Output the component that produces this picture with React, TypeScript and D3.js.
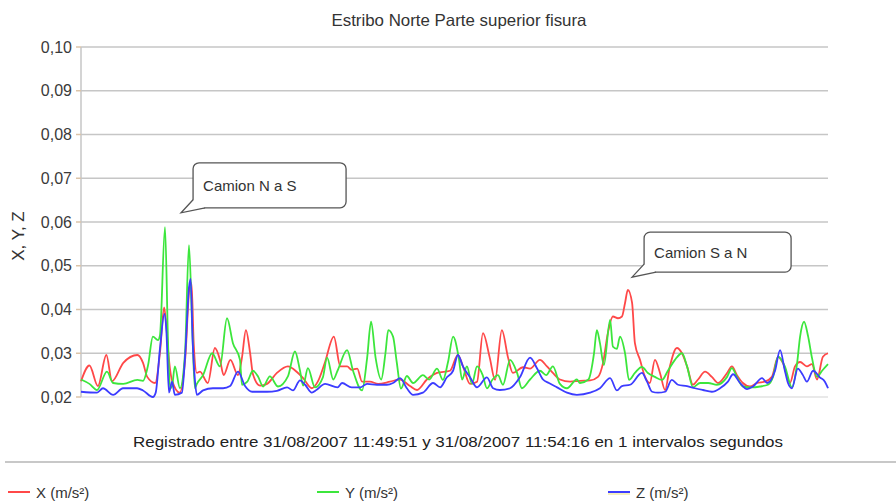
import * as d3 from "d3";
import { useEffect, useRef } from "react";

// chart texts
const chartTitle = "Estribo Norte Parte superior fisura";
const footerText =
  "Registrado entre 31/08/2007 11:49:51 y 31/08/2007 11:54:16 en 1 intervalos segundos";
const yAxisTitle = "X, Y, Z";
const yTicks = [0.02, 0.03, 0.04, 0.05, 0.06, 0.07, 0.08, 0.09, 0.1];
const seriesNames = ["X (m/s²)", "Y (m/s²)", "Z (m/s²)"];
const seriesColors = ["#ff4848", "#3ce63c", "#3c3cff"];

// [second since 11:49:51, m/s²]
const xSeries: [number, number][] = [
  [0, 0.0236], [3, 0.0272], [6, 0.0225], [9, 0.0296], [11, 0.0236], [15, 0.0278],
  [20, 0.0296], [22, 0.0278], [23.5, 0.0246], [26.3, 0.0232], [28, 0.03], [29.5, 0.0405],
  [30.3, 0.036], [31, 0.03], [32.3, 0.0238], [35, 0.021], [37, 0.029], [38.5, 0.045],
  [39.2, 0.046], [40, 0.032], [41.1, 0.0255], [42.2, 0.0258], [45, 0.0232], [47.5, 0.0312],
  [49.3, 0.0285], [50.6, 0.025], [53, 0.0285], [55.7, 0.025], [57.1, 0.029], [58.5, 0.0353],
  [60, 0.03], [61, 0.0252], [63.5, 0.0226], [66, 0.023], [69.5, 0.0255], [73.4, 0.027],
  [76.6, 0.0257], [78.8, 0.0243], [81.9, 0.022], [84, 0.0235], [86.5, 0.0278], [89.7, 0.0338],
  [92, 0.027], [94.4, 0.027], [96, 0.0262], [98, 0.0265], [99.7, 0.0235], [102.5, 0.0235],
  [105.4, 0.023], [109.6, 0.0235], [113.2, 0.024], [116.7, 0.0225], [119.2, 0.0216],
  [122.7, 0.024], [126.3, 0.0255], [130.9, 0.026], [133.7, 0.0296], [135.5, 0.027],
  [138, 0.023], [140.5, 0.0235], [142.6, 0.0346], [145, 0.029], [146.9, 0.0239],
  [149.3, 0.0353], [151.5, 0.029], [153.2, 0.0255], [156.8, 0.0268], [159.3, 0.0265],
  [162.8, 0.0285], [165.3, 0.027], [167.4, 0.0255], [169.9, 0.024], [173.5, 0.0235],
  [177, 0.0237], [180.6, 0.0238], [183.4, 0.0246], [185.2, 0.0278], [186.9, 0.0346],
  [188.7, 0.0384], [190.5, 0.038], [191.9, 0.0384], [193, 0.0415], [194, 0.0445],
  [195.5, 0.0415], [196.5, 0.0323], [198.3, 0.0285], [200.1, 0.0246], [201.8, 0.0232],
  [203.6, 0.0285], [205.4, 0.0255], [207.2, 0.0216], [208.9, 0.027], [211.4, 0.0312],
  [213.2, 0.03], [215, 0.027], [217.1, 0.0228], [218.9, 0.024], [221.4, 0.0258],
  [223.8, 0.0246], [226, 0.0232], [229.2, 0.0255], [230.9, 0.027], [232.7, 0.025],
  [234.8, 0.0232], [237.3, 0.0224], [239.8, 0.0232], [242.6, 0.0235], [245.1, 0.0246],
  [247.3, 0.0292], [249, 0.0278], [251.5, 0.0232], [253.3, 0.027], [255.1, 0.028],
  [257.5, 0.027], [259.3, 0.0275], [261.1, 0.024], [263.2, 0.0292], [265, 0.03],
];

const ySeries: [number, number][] = [
  [0, 0.024], [3, 0.023], [5.7, 0.0216], [9.2, 0.0258], [11.4, 0.0232], [15, 0.023],
  [20, 0.0239], [22, 0.0237], [23.8, 0.0273], [25.5, 0.0338], [27.3, 0.033], [28, 0.034],
  [29.8, 0.0588], [30.9, 0.032], [31.6, 0.022], [32.3, 0.0225], [33.3, 0.027], [35.1, 0.022],
  [36.9, 0.03], [38.3, 0.0547], [39.5, 0.035], [40.4, 0.022], [41.1, 0.023], [43.3, 0.025],
  [46.5, 0.03], [49.3, 0.027], [51.8, 0.038], [53.9, 0.0323], [56.4, 0.0285], [57.1, 0.0228],
  [59, 0.0235], [61, 0.026], [62.8, 0.0247], [64.6, 0.0224], [67, 0.0247], [69.9, 0.0224],
  [73.4, 0.0247], [75.9, 0.0304], [77.7, 0.026], [78.8, 0.0226], [80.5, 0.0266], [83, 0.0222],
  [85.8, 0.0245], [87.3, 0.029], [89.5, 0.024], [91, 0.026], [94.4, 0.0307], [96.5, 0.026],
  [99.7, 0.0215], [101.5, 0.0289], [102.9, 0.0372], [104.5, 0.029], [106.5, 0.024],
  [108, 0.03], [109, 0.0353], [110.7, 0.0338], [112, 0.028], [113.5, 0.0219],
  [115.6, 0.0248], [117.8, 0.0232], [121.3, 0.025], [123.5, 0.024], [126.3, 0.0265],
  [128.4, 0.0239], [130.2, 0.028], [132, 0.0338], [134, 0.029], [135.2, 0.024],
  [136.9, 0.027], [138.7, 0.023], [140.5, 0.027], [142.5, 0.025], [144, 0.022], [146, 0.024],
  [147.9, 0.025], [149.7, 0.0228], [152.2, 0.0285], [154.7, 0.0255], [156.4, 0.022],
  [159.3, 0.024], [162.8, 0.026], [165, 0.025], [167.4, 0.027], [169.9, 0.023],
  [172.4, 0.022], [175.9, 0.024], [177, 0.0232], [180, 0.024], [182, 0.03], [183, 0.0353],
  [184.1, 0.0323], [185.5, 0.0273], [187.7, 0.0376], [188.7, 0.0315], [190.1, 0.031],
  [191.2, 0.0338], [193, 0.03], [194.4, 0.0239], [196.5, 0.0255], [199, 0.0269],
  [201.1, 0.0255], [203.6, 0.0246], [206.1, 0.0239], [208.2, 0.026], [210.7, 0.0285],
  [213.2, 0.03], [215, 0.027], [217.1, 0.0222], [219.6, 0.0232], [222.5, 0.0232],
  [225.6, 0.0228], [229.2, 0.0246], [230.9, 0.0266], [232.7, 0.0246], [234.8, 0.0224],
  [238, 0.0222], [240.9, 0.0224], [243.7, 0.0228], [245.5, 0.0246], [247.3, 0.0292],
  [249.7, 0.027], [252.2, 0.0222], [254, 0.0275], [255.1, 0.0338], [256.5, 0.0372],
  [257.9, 0.034], [259.3, 0.029], [261.1, 0.0246], [262.9, 0.026], [265, 0.0275],
];

const zSeries: [number, number][] = [
  [0, 0.0212], [5.7, 0.021], [7.8, 0.022], [11.4, 0.0205], [14.9, 0.022], [19.9, 0.022],
  [22, 0.0215], [25.5, 0.02], [26.5, 0.021], [28, 0.031], [29.6, 0.039], [30.3, 0.035],
  [31.2, 0.021], [32.3, 0.0235], [33.3, 0.0205], [35.8, 0.021], [37, 0.03], [38.3, 0.045],
  [38.9, 0.047], [39.6, 0.033], [40.4, 0.024], [41.1, 0.0205], [43.3, 0.0215], [46.8, 0.022],
  [50.4, 0.022], [52.9, 0.0225], [55.7, 0.0258], [58.2, 0.0225], [60.7, 0.0212], [66, 0.0212],
  [69.5, 0.0214], [73.1, 0.0222], [75.2, 0.0215], [77.7, 0.0238], [79.5, 0.0228],
  [81.9, 0.021], [83.5, 0.0216], [86.6, 0.023], [91, 0.0222], [92.6, 0.0232], [96, 0.0222],
  [99, 0.0222], [101.5, 0.023], [105, 0.0228], [108.5, 0.0228], [110.7, 0.0232],
  [113.2, 0.0243], [115.6, 0.022], [117.8, 0.0205], [121.3, 0.021], [124.9, 0.0232],
  [127.4, 0.0222], [129.8, 0.0245], [132, 0.026], [133.7, 0.0296], [135.5, 0.027],
  [138, 0.0245], [140.5, 0.0222], [144, 0.0245], [146.2, 0.022], [148.6, 0.0216],
  [152.2, 0.022], [155.7, 0.0245], [159.3, 0.029], [161.8, 0.0265], [163.9, 0.024],
  [166, 0.0232], [168.9, 0.0222], [172.4, 0.021], [175.9, 0.0205], [180.6, 0.021],
  [184.1, 0.022], [187.7, 0.0243], [190.1, 0.0215], [191.9, 0.0225], [194.8, 0.0228],
  [199, 0.0255], [200.8, 0.0235], [202.6, 0.0212], [204.7, 0.021], [207.2, 0.0212],
  [209.6, 0.0239], [211.8, 0.0228], [215, 0.0225], [217.8, 0.022], [220.6, 0.0216],
  [223.8, 0.0212], [226.7, 0.022], [229.5, 0.0235], [231.3, 0.0252], [233.8, 0.0232],
  [236.3, 0.0218], [238.4, 0.0224], [241.6, 0.0243], [243.4, 0.0232], [246.2, 0.026],
  [248, 0.0307], [249.7, 0.026], [250.8, 0.0232], [252.2, 0.022], [254.3, 0.0265],
  [256.1, 0.025], [257.5, 0.0235], [259.7, 0.026], [262.1, 0.0245], [263.9, 0.0235],
  [265, 0.022],
];

// callouts: tip anchored in data units
const noteTexts = ["Camion N a S", "Camion S a N"];
const noteSeconds = [35.5, 195.5];
const noteValues = [0.0621, 0.0474];

export default function App() {
  const ref = useRef<SVGSVGElement>(null);

  useEffect(() => {
    const width = 896;
    const height = 501;
    const font = "'Liberation Sans', Arial, sans-serif";
    const svg = d3.select(ref.current);
    svg.selectAll("*").remove();

    const left = 81;
    const right = 828;
    const top = 47;
    const bottom = 397;

    const x = d3.scaleLinear().domain([0, 265]).range([left, right]);
    const y = d3.scaleLinear().domain([0.02, 0.1]).range([bottom, top]);

    svg.append("rect").attr("width", width).attr("height", height).attr("fill", "#fff");

    // title
    svg
      .append("text")
      .attr("x", 459)
      .attr("y", 26)
      .attr("text-anchor", "middle")
      .attr("font-family", font)
      .attr("font-size", 16.5)
      .attr("fill", "#333")
      .attr("textLength", 255)
      .attr("lengthAdjust", "spacingAndGlyphs")
      .text(chartTitle);

    // grid
    svg
      .append("g")
      .selectAll("line")
      .data(yTicks)
      .join("line")
      .attr("x1", left)
      .attr("x2", right)
      .attr("y1", (d) => y(d))
      .attr("y2", (d) => y(d))
      .attr("stroke", (d) => (d === 0.02 ? "#e2e2e2" : "#c6c6c6"))
      .attr("stroke-width", 1.5);

    // y axis line + ticks
    svg
      .append("line")
      .attr("x1", left)
      .attr("x2", left)
      .attr("y1", top)
      .attr("y2", bottom)
      .attr("stroke", "#c6c6c6")
      .attr("stroke-width", 1.5);

    svg
      .append("g")
      .selectAll("line")
      .data(yTicks)
      .join("line")
      .attr("x1", left - 5)
      .attr("x2", left)
      .attr("y1", (d) => y(d))
      .attr("y2", (d) => y(d))
      .attr("stroke", "#dcc4a8")
      .attr("stroke-width", 1.5);

    svg
      .append("g")
      .selectAll("text")
      .data(yTicks)
      .join("text")
      .attr("x", 72)
      .attr("y", (d) => y(d) + 5.5)
      .attr("text-anchor", "end")
      .attr("font-family", font)
      .attr("font-size", 16)
      .attr("fill", "#3a3a3a")
      .text((d) => d3.format(".2f")(d).replace(".", ","));

    svg
      .append("text")
      .attr("transform", "translate(24,236) rotate(-90)")
      .attr("text-anchor", "middle")
      .attr("font-family", font)
      .attr("font-size", 17)
      .attr("fill", "#333")
      .text(yAxisTitle);

    // series
    const line = d3
      .line<[number, number]>()
      .x((d) => x(d[0]))
      .y((d) => y(d[1]))
      .curve(d3.curveMonotoneX);

    [xSeries, ySeries, zSeries].forEach((s, i) => {
      svg
        .append("path")
        .attr("d", line(s))
        .attr("fill", "none")
        .attr("stroke", seriesColors[i])
        .attr("stroke-width", 1.8)
        .attr("stroke-linejoin", "round");
    });

    // callouts
    const boxW = [153, 147];
    const boxH = [45, 40];
    noteTexts.forEach((t, i) => {
      const tx = x(noteSeconds[i]);
      const ty = y(noteValues[i]);
      const bx = tx + 12;
      const by = ty - 5 - boxH[i];
      const g = svg.append("g");
      g.append("rect")
        .attr("x", bx)
        .attr("y", by)
        .attr("width", boxW[i])
        .attr("height", boxH[i])
        .attr("rx", 6)
        .attr("fill", "#fff")
        .attr("stroke", "#555")
        .attr("stroke-width", 1.3);
      g.append("path")
        .attr("d", `M${bx},${by + boxH[i] - 8} L${tx},${ty} L${bx + 12},${by + boxH[i]}`)
        .attr("fill", "#fff")
        .attr("stroke", "#555")
        .attr("stroke-width", 1.3);
      g.append("text")
        .attr("x", bx + 10)
        .attr("y", by + boxH[i] / 2 + 5.5)
        .attr("font-family", font)
        .attr("font-size", 15)
        .attr("fill", "#333")
        .text(t);
    });

    // footer
    svg
      .append("text")
      .attr("x", 458)
      .attr("y", 447)
      .attr("text-anchor", "middle")
      .attr("font-family", font)
      .attr("font-size", 15)
      .attr("fill", "#222")
      .attr("textLength", 650)
      .attr("lengthAdjust", "spacingAndGlyphs")
      .text(footerText);

    svg
      .append("line")
      .attr("x1", 5)
      .attr("x2", width)
      .attr("y1", 462)
      .attr("y2", 462)
      .attr("stroke", "#c8c8c8")
      .attr("stroke-width", 2);

    // legend
    const legendX = [8, 317, 608];
    seriesNames.forEach((n, i) => {
      const g = svg.append("g").attr("transform", `translate(${legendX[i]},492)`);
      if (i === 2) {
        g.append("line").attr("x1", 0).attr("x2", 22).attr("y1", 2).attr("y2", 2)
          .attr("stroke", "#f2eaa8").attr("stroke-width", 1.5);
      }
      g.append("line")
        .attr("x1", 0)
        .attr("x2", 22)
        .attr("y1", 0)
        .attr("y2", 0)
        .attr("stroke", seriesColors[i])
        .attr("stroke-width", 2);
      g.append("text")
        .attr("x", 28)
        .attr("y", 5.5)
        .attr("font-family", font)
        .attr("font-size", 15)
        .attr("fill", "#333")
        .text(n);
    });
  }, []);

  return (
    <svg
      ref={ref}
      width={896}
      height={501}
      style={{ position: "fixed", left: 0, top: 0, display: "block" }}
    />
  );
}
